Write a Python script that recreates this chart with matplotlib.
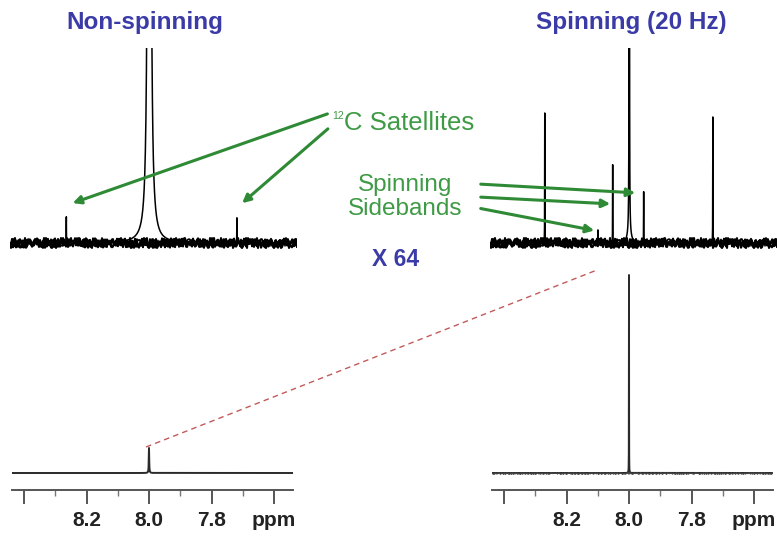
import numpy as np
import matplotlib
matplotlib.use('Agg')
import matplotlib.pyplot as plt

plt.rcParams['font.family'] = ['Liberation Sans', 'DejaVu Sans']

W, H = 777, 537

# peaks: position (ppm), height (px above baseline), half width (ppm)
nonspin_ppm = [8.0, 8.265, 7.72]
nonspin_height = [40000, 26, 25]
nonspin_width = [0.0006, 0.0003, 0.0003]

spin_ppm = [8.0, 8.0, 8.27, 7.733, 8.053, 7.954, 8.10]
spin_height = [20000, 12, 130, 126, 78, 51, 13]
spin_width = [0.0001, 0.006, 0.0003, 0.0003, 0.0003, 0.0003, 0.0003]

# full-scale spectra (bottom row)
full_nonspin_ppm = [8.0]
full_nonspin_height = [25]
full_nonspin_width = [0.0008]

full_spin_ppm = [8.0]
full_spin_height = [198]
full_spin_width = [0.0002]

tick_pos = [8.4, 8.3, 8.2, 8.1, 8.0, 7.9, 7.8, 7.7, 7.6]
major_ticks = [8.4, 8.2, 8.0, 7.8, 7.6]
major_labels = ['', '8.2', '8.0', '7.8', 'ppm']

blue = '#3b3ba8'
green = '#3f9a45'
arrow_green = '#2f8a35'


def spectrum(x, pos, height, width):
    y = np.zeros_like(x)
    for p, h, w in zip(pos, height, width):
        y += h * w**2 / ((x - p)**2 + w**2)
    return y


def px_axes(fig, left, top, right, bottom):
    return fig.add_axes([left / W, 1 - bottom / H, (right - left) / W, (bottom - top) / H])


def fx(x):
    return x / W


def fy(y):
    return 1 - y / H


fig = plt.figure(figsize=(W / 100, H / 100), dpi=100)

top_xlim = (8.445, 7.528)
x_top = np.arange(top_xlim[1], top_xlim[0], 0.0001)

# upper row, x 64
for left, pos, hts, wds in [(10, nonspin_ppm, nonspin_height, nonspin_width),
                             (490, spin_ppm, spin_height, spin_width)]:
    ax = px_axes(fig, left, 48, left + 287, 263)
    ax.plot(x_top, spectrum(x_top, pos, hts, wds), color='black', lw=1.1)
    # baseline noise drawn as a jittered line style
    for sc, ln, lw in [(5, 1.2, 1.5), (4, 1.0, 1.3), (3, 0.8, 1.1)]:
        noise, = ax.plot(top_xlim, [0, 0], color='black', lw=lw)
        noise.set_sketch_params(scale=sc, length=ln, randomness=3)
    ax.set_xlim(top_xlim)
    ax.set_ylim(-20, 195)
    ax.axis('off')

# lower row, full scale
bot_xlim = (8.4384, 7.5392)
x_bot = np.arange(bot_xlim[1], bot_xlim[0], 0.0001)
for left, pos, hts, wds, ns in [(12, full_nonspin_ppm, full_nonspin_height, full_nonspin_width, 0),
                                 (492, full_spin_ppm, full_spin_height, full_spin_width, 0.8)]:
    ax = px_axes(fig, left, 260, left + 281, 490)
    ax.plot(x_bot, spectrum(x_bot, pos, hts, wds), color='#2a2a2a', lw=1.4)
    if ns:
        base, = ax.plot(bot_xlim, [0, 0], color='#444444', lw=1.0)
        base.set_sketch_params(scale=ns, length=3, randomness=2)
    ax.set_xlim(bot_xlim)
    ax.set_ylim(-17, 213)
    for s in ['top', 'left', 'right']:
        ax.spines[s].set_visible(False)
    ax.spines['bottom'].set_color('#555555')
    ax.spines['bottom'].set_linewidth(1.4)
    ax.set_yticks([])
    ax.set_xticks(major_ticks)
    ax.set_xticklabels(major_labels, fontsize=15, fontweight='bold', color='#222222')
    ax.set_xticks(tick_pos, minor=True)
    ax.tick_params(axis='x', which='major', length=10, width=1.4, color='#555555', pad=5)
    ax.tick_params(axis='x', which='minor', length=4, width=1.0, color='#777777')

# titles and labels
fig.text(fx(145), fy(22), 'Non-spinning', color=blue, fontsize=17.5, fontweight='bold', ha='center', va='center')
fig.text(fx(631), fy(22), 'Spinning (20 Hz)', color=blue, fontsize=17.5, fontweight='bold', ha='center', va='center')
fig.text(fx(396), fy(260), 'X 64', color=blue, fontsize=16.5, fontweight='bold', ha='center', va='center')
fig.text(fx(332), fy(116), '12', color=green, fontsize=7.5, ha='left', va='center')
fig.text(fx(344), fy(123), 'C Satellites', color=green, fontsize=18.5, ha='left', va='center')
fig.text(fx(405), fy(197), 'Spinning\nSidebands', color=green, fontsize=17.5, ha='center', va='center',
         linespacing=1.1)

# arrows
arrows = [((330, 113), (70, 204)), ((330, 127), (240, 205)),
          ((478, 184), (638, 193)), ((478, 197), (613, 204)), ((478, 208), (597, 231))]
for (x0, y0), (x1, y1) in arrows:
    fig.add_artist(matplotlib.patches.FancyArrowPatch(
        (fx(x0), fy(y0)), (fx(x1), fy(y1)), transform=fig.transFigure,
        arrowstyle='-|>', mutation_scale=12, color=arrow_green, lw=2.2))

# zoom guide
fig.add_artist(matplotlib.lines.Line2D([fx(146), fx(597)], [fy(447), fy(270)], transform=fig.transFigure,
                                       color='#c25a5a', lw=1.0, ls=(0, (4, 3))))

fig.savefig('out.png', dpi=100)
